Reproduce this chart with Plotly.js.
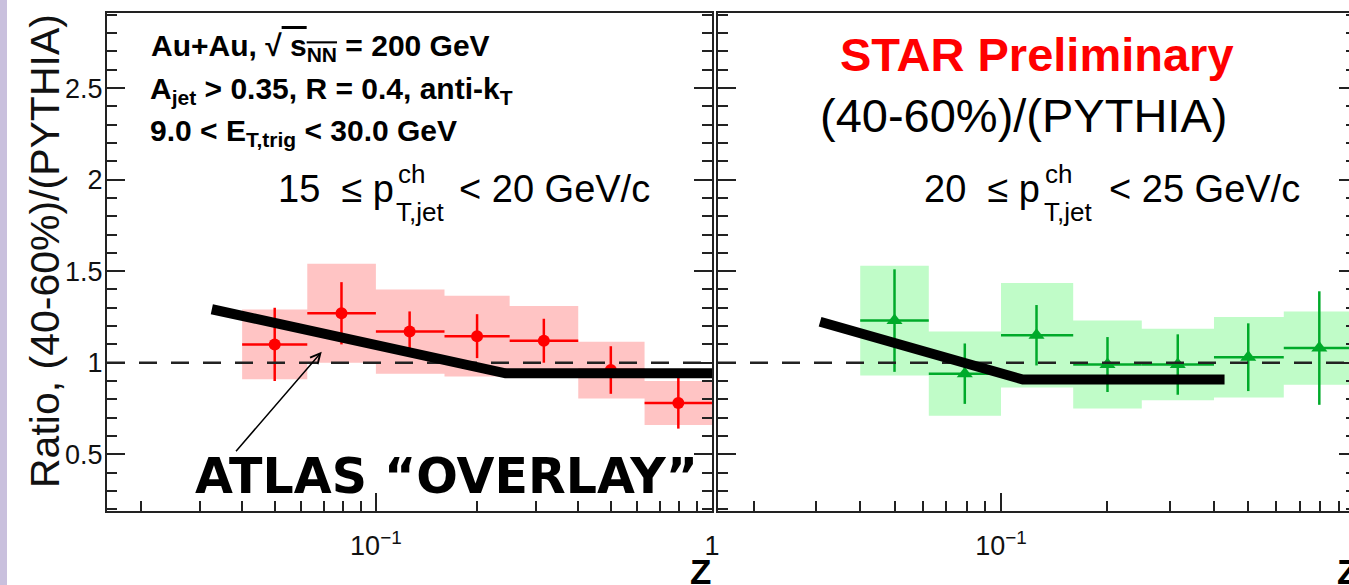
<!DOCTYPE html>
<html>
<head>
<meta charset="utf-8">
<script src="https://cdn.plot.ly/plotly-3.0.1.min.js"></script>
<style>
  html, body { margin: 0; padding: 0; background: #ffffff; }
  #chart { width: 1349px; height: 585px; }
</style>
</head>
<body>
<div id="chart"></div>
<script>
// ---------------- data ----------------
const binLo   = [0.04, 0.0625, 0.1, 0.16, 0.25, 0.4, 0.63];
const binHi   = [0.0625, 0.1, 0.16, 0.25, 0.4, 0.63, 1.0];
const zCenter = [0.05, 0.079, 0.126, 0.2, 0.316, 0.5, 0.794];

// 15 <= pT,jet < 20 GeV/c  (red circles)
const ratio15 = [1.10, 1.27, 1.17, 1.145, 1.12, 0.96, 0.78];
const stat15  = [0.20, 0.17, 0.11, 0.12, 0.12, 0.13, 0.14];
const sys15   = [0.19, 0.27, 0.23, 0.22, 0.19, 0.155, 0.12];

// 20 <= pT,jet < 25 GeV/c  (green triangles)
const ratio20 = [1.23, 0.94, 1.15, 0.99, 0.99, 1.03, 1.08];
const stat20  = [0.28, 0.165, 0.165, 0.15, 0.165, 0.185, 0.31];
const sys20   = [0.30, 0.23, 0.285, 0.24, 0.195, 0.22, 0.20];

// ATLAS "overlay" lines
const atlasZ15 = [0.0325, 0.243, 1.0];
const atlasR15 = [1.292, 0.942, 0.942];
const atlasZ20 = [0.0308, 0.1153, 0.4285];
const atlasR20 = [1.224, 0.908, 0.908];

const refLevel = 1.0;
const yTickVals = [0.5, 1, 1.5, 2, 2.5];
const yTickText = ['0.5', '1', '1.5', '2', '2.5'];
const xTickVals = [0.1, 1];
const xTickText = ['10<sup>\u22121</sup>', '1'];
const xMinorVals = [0.02,0.03,0.04,0.05,0.06,0.07,0.08,0.09,0.2,0.3,0.4,0.5,0.6,0.7,0.8,0.9];

// ---------------- layout geometry ----------------
const W = 1349, H = 585;
const M = {l: 107, r: 0, t: 13, b: 74};
const PW = W - M.l - M.r, PH = H - M.t - M.b;
const px = x => (x - M.l) / PW;
const py = y => 1 - (y - M.t) / PH;
const LOGMIN = -1.8;
const leftDom  = [0, px(712)];
const rightDom = [px(718), 1];
const rightDecade = 353.75;
const rightMax = LOGMIN + (W - 718) / rightDecade;

const FONT = 'Liberation Sans, Arial, Helvetica, sans-serif';
const AXC = '#222222';
const RED = '#ff0000', GREEN = '#00aa2a';
const PINK = '#ffc4c4', LGREEN = '#c0fcc8';
const NB = '\u00A0';

function boxTrace(vals, sys, color, xa, ya) {
  const xs = [], ys = [];
  for (let i = 0; i < vals.length; i++) {
    xs.push(binLo[i], binHi[i], binHi[i], binLo[i], binLo[i], null);
    ys.push(vals[i] - sys[i], vals[i] - sys[i], vals[i] + sys[i], vals[i] + sys[i], vals[i] - sys[i], null);
  }
  return {x: xs, y: ys, xaxis: xa, yaxis: ya, mode: 'lines', fill: 'toself',
          fillcolor: color, line: {width: 0, color: color}, hoverinfo: 'skip', showlegend: false};
}
function pointTrace(vals, stat, color, symbol, size, xa, ya) {
  return {x: zCenter, y: vals, xaxis: xa, yaxis: ya, mode: 'markers', showlegend: false,
          marker: {color: color, size: size, symbol: symbol, line: {width: 0}},
          error_y: {type: 'data', array: stat, color: color, thickness: 2.5, width: 0},
          error_x: {type: 'data', array: zCenter.map((z, i) => binHi[i] - z),
                    arrayminus: zCenter.map((z, i) => z - binLo[i]),
                    color: color, thickness: 2.5, width: 0}};
}
function refTrace(xa, ya) {
  return {x: [Math.pow(10, LOGMIN), 1], y: [refLevel, refLevel], xaxis: xa, yaxis: ya,
          mode: 'lines', line: {color: AXC, width: 2.5, dash: '18px,14px'},
          hoverinfo: 'skip', showlegend: false};
}
function atlasTrace(z, r, xa, ya) {
  return {x: z, y: r, xaxis: xa, yaxis: ya, mode: 'lines',
          line: {color: '#000000', width: 10}, hoverinfo: 'skip', showlegend: false};
}

const traces = [
  boxTrace(ratio15, sys15, PINK, 'x', 'y'),
  boxTrace(ratio20, sys20, LGREEN, 'x2', 'y2'),
  pointTrace(ratio15, stat15, RED, 'circle', 12, 'x', 'y'),
  pointTrace(ratio20, stat20, GREEN, 'triangle-up', 14, 'x2', 'y2'),
  refTrace('x', 'y'),
  refTrace('x2', 'y2'),
  atlasTrace(atlasZ15, atlasR15, 'x', 'y'),
  atlasTrace(atlasZ20, atlasR20, 'x2', 'y2'),
  {x: [], y: [], xaxis: 'x2', yaxis: 'y3', mode: 'markers', showlegend: false, hoverinfo: 'skip'}
];

const yRange = [0.19, 2.91];
function xAxis(dom, range, anchor, vals, text) {
  return {type: 'log', domain: dom, range: range, anchor: anchor,
          showline: true, linecolor: AXC, linewidth: 2, mirror: true,
          ticks: 'inside', ticklen: 18, tickwidth: 2, tickcolor: AXC,
          tickmode: 'array', tickvals: vals, ticktext: text,
          tickfont: {family: FONT, size: 27, color: '#111'}, ticklabelstandoff: 10,
          minor: {tickmode: 'array', tickvals: xMinorVals, ticks: 'inside', ticklen: 10, tickwidth: 2, tickcolor: AXC},
          showgrid: false, zeroline: false, fixedrange: true};
}
function yAxis(anchor, labels, mirror) {
  return {domain: [0, 1], range: yRange, anchor: anchor,
          showline: true, linecolor: AXC, linewidth: 2, mirror: mirror,
          ticks: 'inside', ticklen: 18, tickwidth: 2, tickcolor: AXC,
          tickmode: 'array', tickvals: yTickVals, ticktext: yTickText, showticklabels: labels,
          tickfont: {family: FONT, size: 27, color: '#111'}, ticklabelstandoff: -3,
          minor: {dtick: 0.1, tick0: 0, ticks: 'inside', ticklen: 10, tickwidth: 2, tickcolor: AXC},
          showgrid: false, zeroline: false, fixedrange: true};
}

function ann(text, x, y, size, opts) {
  return Object.assign({text: text, xref: 'paper', yref: 'paper', x: px(x), y: py(y),
          xanchor: 'left', yanchor: 'middle', showarrow: false,
          font: {family: FONT, size: size, color: '#000'}}, opts || {});
}
function bold(size, color) { return {family: FONT, size: size, color: color || '#000', weight: 'bold'}; }

const annotations = [
  // y axis title
  ann('Ratio, (40-60%)/(PYTHIA)', 45, 251, 41, {textangle: -90, xanchor: 'center', font: {family: FONT, size: 41, color: '#111'}}),
  // left panel text
  ann('Au+Au, \u221A<span style="text-decoration:overline">' + NB + 's<sub>NN</sub></span> = 200 GeV', 149, 48, 30, {font: bold(30)}),
  ann('A<sub>jet</sub> > 0.35, R = 0.4, anti-k<sub>T</sub>', 148, 91, 30, {font: bold(30)}),
  ann('9.0 < E<sub>T,trig</sub> < 30.0 GeV', 148, 132, 30, {font: bold(30)}),
  ann('15' + NB + NB + '\u2264' + NB + 'p', 276, 189, 38),
  ann('ch', 396, 174, 26),
  ann('T,jet', 394, 212, 26),
  ann('< 20 GeV/c', 457, 189, 38),
  // right panel text
  ann('STAR Preliminary', 838, 54, 47, {font: bold(47, RED)}),
  ann('(40-60%)/(PYTHIA)', 818, 115, 47),
  ann('20' + NB + NB + '\u2264' + NB + 'p', 922, 189, 38),
  ann('ch', 1043, 174, 26),
  ann('T,jet', 1042, 212, 26),
  ann('< 25 GeV/c', 1107, 189, 38),
  // overlay label
  ann('ATLAS \u201COVERLAY\u201D', 193, 476, 49, {font: {family: 'DejaVu Sans, sans-serif', size: 49, color: '#000', weight: 'bold'}}),
  // axis titles
  ann('Z', 700, 571, 35, {xanchor: 'center', font: bold(35)}),
  ann('Z', 1335, 571, 35, {font: bold(35)}),
  // arrow
  {xref: 'x', yref: 'y', x: Math.log10(0.069), y: 1.06, text: '', showarrow: true,
   ax: -87, ay: 101, axref: 'pixel', ayref: 'pixel', arrowhead: 5, arrowsize: 1.3, arrowwidth: 1.5,
   arrowcolor: '#000', standoff: 0, startstandoff: 0}
];

const shapes = [
  {type: 'rect', xref: 'paper', yref: 'paper', x0: px(0), x1: px(7), y0: py(H), y1: py(0),
   fillcolor: '#c9c0dd', line: {width: 0}, layer: 'below'}
];

const layout = {
  width: W, height: H, margin: M, showlegend: false,
  paper_bgcolor: '#ffffff', plot_bgcolor: 'rgba(0,0,0,0)',
  font: {family: FONT, color: '#000'},
  xaxis: xAxis(leftDom, [LOGMIN, 0], 'y', xTickVals, xTickText),
  yaxis: yAxis('x', true, 'ticks'),
  xaxis2: xAxis(rightDom, [LOGMIN, rightMax], 'y2', [0.1], ['10<sup>\u22121</sup>']),
  yaxis2: yAxis('x2', false, false),
  yaxis3: Object.assign(yAxis('x2', false, false), {overlaying: 'y2', side: 'right', showline: false,
          ticklen: 10, minor: {dtick: 0.1, tick0: 0, ticks: 'inside', ticklen: 3, tickwidth: 2, tickcolor: AXC}}),
  annotations: annotations,
  shapes: shapes
};

Plotly.newPlot('chart', traces, layout, {displayModeBar: false, staticPlot: true});
</script>
</body>
</html>
